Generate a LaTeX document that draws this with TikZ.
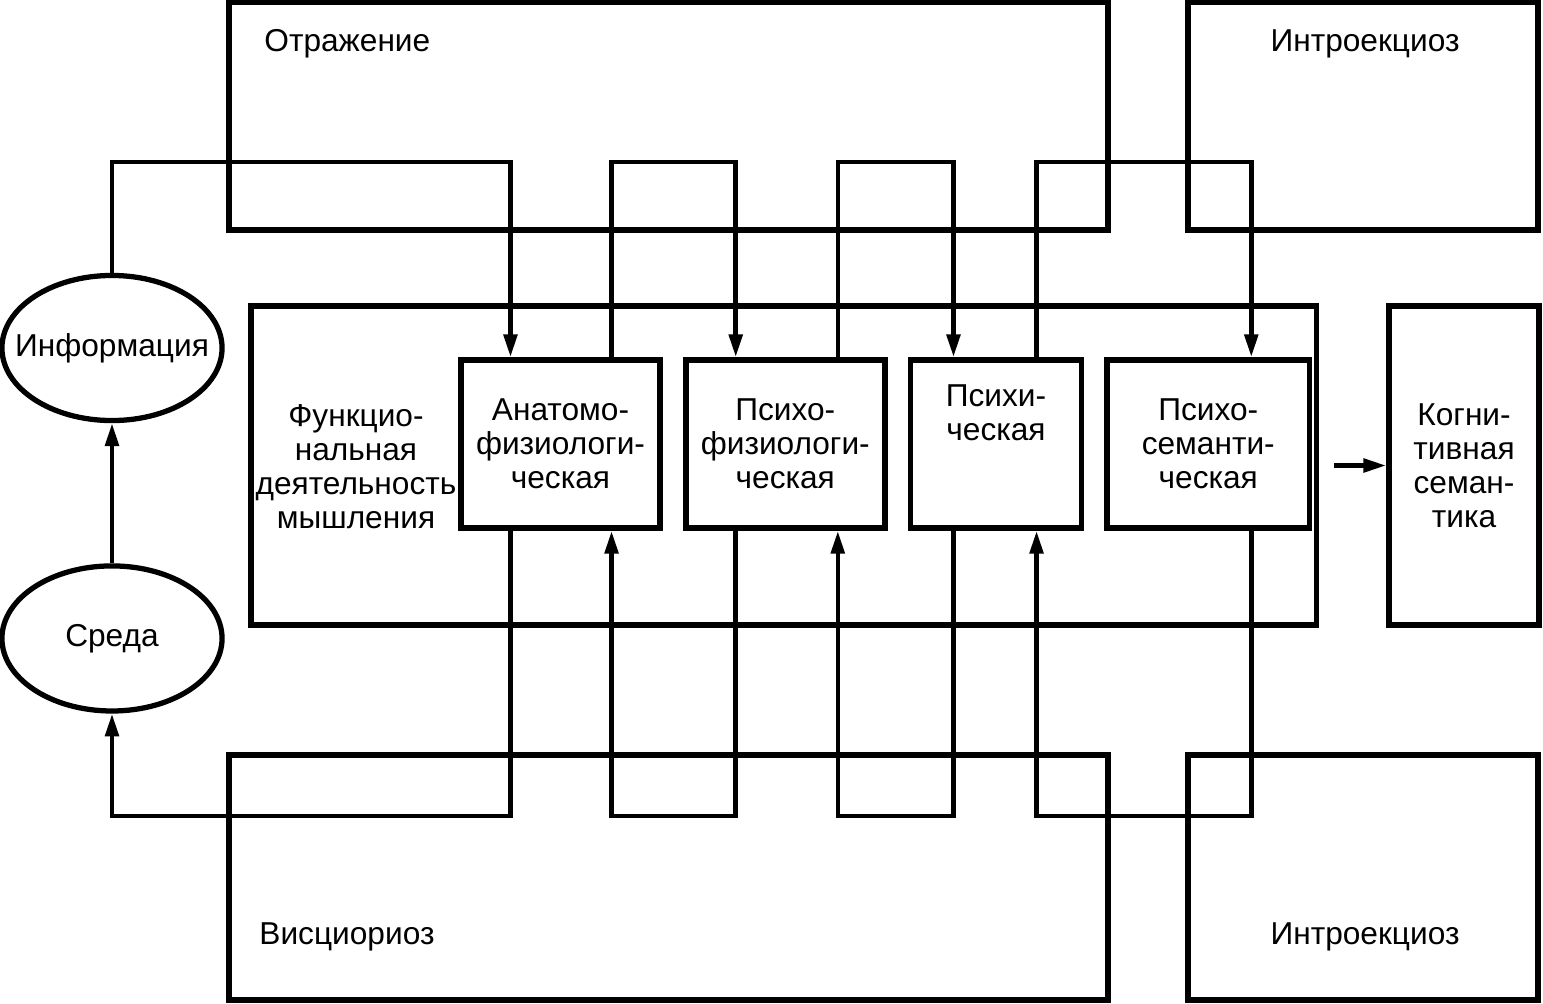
\documentclass[tikz,border=0pt]{standalone}
\usepackage{fontspec}
\setmainfont{Liberation Sans}
\usepackage{tikz}
\usetikzlibrary{shapes.geometric,positioning,arrows.meta}

\begin{document}
\begin{tikzpicture}[x=0.01cm,y=-0.01cm,>={Triangle[length=6.5pt,width=3.8pt]},
                    font=\fontsize{9}{9.7}\selectfont,
                    frame/.style={draw,line width=1.6pt,inner sep=0pt},
                    block/.style={draw,line width=1.6pt,align=center,minimum height=1.68cm,inner sep=1pt},
                    oval/.style={draw,ellipse,line width=1.5pt,minimum width=2.2cm,minimum height=1.45cm,inner sep=0pt},
                    conn/.style={->,line width=1.3pt}]
    \useasboundingbox (0,0) rectangle (1543,1003);

    % outer frames
    \node[frame,minimum width=8.79cm,minimum height=2.28cm] (refl) at (668.5,116) {};
    \node[frame,minimum width=3.50cm,minimum height=2.28cm] (introU) at (1363,116) {};
    \node[frame,minimum width=8.79cm,minimum height=2.45cm] (visc) at (668.5,877.5) {};
    \node[frame,minimum width=3.50cm,minimum height=2.45cm] (introD) at (1363,877.5) {};
    \node[anchor=west] (reflT) at (252,44) {Отражение};
    \node (introUT) at (1365,44) {Интроекциоз};
    \node[anchor=west] (viscT) at (247,937) {Висциориоз};
    \node (introDT) at (1365,937) {Интроекциоз};

    % middle row
    \node[frame,minimum width=10.65cm,minimum height=3.19cm] (func) at (783.5,465.5) {};
    \node[align=center] (funcT) at (356,467) {Функцио-\\нальная\\деятельность\\мышления};
    \node[block,minimum width=1.50cm,minimum height=3.19cm,right=0.67cm of func] (cogn) {Когни-\\тивная\\семан-\\тика};

    \node[block,minimum width=1.99cm] (anat) at (560.5,444) {Анатомо-\\физиологи-\\ческая};
    \node[block,minimum width=1.99cm,right=0.2cm of anat] (psyphys) {Психо-\\физиологи-\\ческая};
    \node[block,minimum width=1.71cm,right=0.2cm of psyphys] (psych) {Психи-\\ческая\\[0.28cm]~};
    \node[block,minimum width=2.02cm,right=0.2cm of psych] (psysem) {Психо-\\семанти-\\ческая};

    \node[oval] (info) at (112,348) {\makebox[0pt]{Информация}};
    \node[oval,below=1.4cm of info] (env) {\makebox[0pt]{Среда}};

    \coordinate (hi) at (0,162);
    \coordinate (lo) at (0,816);

    % upper loops
    \draw[conn] (info.north) -- (info.north |- hi) -| ([xshift=-5mm]anat.north);
    \draw[conn] ([xshift=5.1mm]anat.north) -- ([xshift=5.1mm]anat.north |- hi) -| ([xshift=-4.95mm]psyphys.north);
    \draw[conn] ([xshift=5.25mm]psyphys.north) -- ([xshift=5.25mm]psyphys.north |- hi) -| ([xshift=-4.25mm]psych.north);
    \draw[conn] ([xshift=4.05mm]psych.north) -- ([xshift=4.05mm]psych.north |- hi) -| ([xshift=4.3mm]psysem.north);

    % lower loops
    \draw[conn] ([xshift=-5mm]anat.south) -- ([xshift=-5mm]anat.south |- lo) -| (env.south);
    \draw[conn] ([xshift=-4.95mm]psyphys.south) -- ([xshift=-4.95mm]psyphys.south |- lo) -| ([xshift=5.1mm]anat.south);
    \draw[conn] ([xshift=-4.25mm]psych.south) -- ([xshift=-4.25mm]psych.south |- lo) -| ([xshift=5.25mm]psyphys.south);
    \draw[conn] ([xshift=4.3mm]psysem.south) -- ([xshift=4.3mm]psysem.south |- lo) -| ([xshift=4.05mm]psych.south);

    \draw[conn] (env.north) -- (info.south);
    \draw[conn] ([xshift=1.5mm]func.east) -- (cogn.west);
\end{tikzpicture}
\end{document}
